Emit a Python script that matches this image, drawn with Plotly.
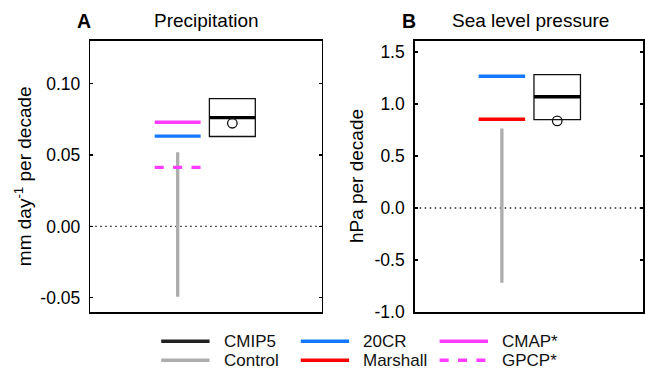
import plotly.graph_objects as go

# ---------------- data ----------------
panels = ["A", "B"]
panel_titles = ["Precipitation", "Sea level pressure"]
y_titles = ["mm day<sup>-1</sup> per decade", "hPa per decade"]

# CMIP5 box statistics per panel
cmip5_q1 = [0.063, 0.850]
cmip5_median = [0.0762, 1.069]
cmip5_q3 = [0.0896, 1.281]
cmip5_mean = [0.0723, 0.837]

# Control range [min, max]
control_min = [-0.0493, -0.719]
control_max = [0.052, 0.765]

# Observational / reanalysis trends (None = not shown in panel)
obs_20cr = [0.0632, 1.266]
obs_marshall = [None, 0.853]
obs_cmap = [0.073, None]
obs_gpcp = [0.0414, None]

y_ranges = [[-0.06, 0.13], [-1.0, 1.606]]
y_ticks = [[-0.05, 0.00, 0.05, 0.10], [-1.0, -0.5, 0.0, 0.5, 1.0, 1.5]]
y_ticktext = [["-0.05", "0.00", "0.05", "0.10"], ["-1.0", "-0.5", "0.0", "0.5", "1.0", "1.5"]]

legend_names = ["CMIP5", "Control", "20CR", "Marshall", "CMAP*", "GPCP*"]

# ---------------- styles ----------------
FONT = "Liberation Sans, Arial, Helvetica, sans-serif"
C_CMIP = "#000000"
C_CTRL = "#adadad"
C_20CR = "#1478ff"
C_MARS = "#ff0000"
C_CMAP = "#ff3cff"
GPCP_DASH = "9px,9.4px"

W, H = 645, 378


def px(x):
    return x / W


def py(y):
    return 1 - y / H


OBS_POS = 1.0
CMIP_POS = 2.0
HALF = 0.42
x_ranges = [[-0.6, 3.64], [-0.575, 3.55]]
x_domains = [[px(90.5), px(323)], [px(416), 1.0]]
y_domain = [py(320.5), py(42)]

fig = go.Figure()
shapes = []
annotations = []

for i in range(2):
    xa = "x" if i == 0 else "x2"
    ya = "y" if i == 0 else "y2"
    # zero reference line
    shapes.append(dict(type="line", xref=f"{xa} domain", yref=ya, x0=0, x1=1, y0=0, y1=0,
                       line=dict(color="#222222", width=1.3, dash="1.5px,3.5px"), layer="below"))
    # control range
    fig.add_trace(go.Scatter(x=[OBS_POS, OBS_POS], y=[control_min[i], control_max[i]], mode="lines",
                             line=dict(color=C_CTRL, width=3.3), xaxis=xa, yaxis=ya,
                             showlegend=False, hoverinfo="skip"))
    # observations
    for vals, col, dash in [(obs_20cr, C_20CR, "solid"), (obs_marshall, C_MARS, "solid"),
                            (obs_cmap, C_CMAP, "solid"), (obs_gpcp, C_CMAP, GPCP_DASH)]:
        v = vals[i]
        if v is None:
            continue
        fig.add_trace(go.Scatter(x=[OBS_POS - HALF, OBS_POS + HALF], y=[v, v], mode="lines",
                                 line=dict(color=col, width=3.3, dash=dash), xaxis=xa, yaxis=ya,
                                 showlegend=False, hoverinfo="skip"))
    # CMIP5 box, median and mean
    shapes.append(dict(type="rect", xref=xa, yref=ya, x0=CMIP_POS - HALF, x1=CMIP_POS + HALF,
                       y0=cmip5_q1[i], y1=cmip5_q3[i], line=dict(color="#111111", width=1.3),
                       fillcolor="rgba(0,0,0,0)"))
    fig.add_trace(go.Scatter(x=[CMIP_POS - HALF, CMIP_POS + HALF], y=[cmip5_median[i]] * 2, mode="lines",
                             line=dict(color=C_CMIP, width=3.3), xaxis=xa, yaxis=ya,
                             showlegend=False, hoverinfo="skip"))
    fig.add_trace(go.Scatter(x=[CMIP_POS], y=[cmip5_mean[i]], mode="markers",
                             marker=dict(symbol="circle-open", size=9.5, color="#111111",
                                         line=dict(width=1.3, color="#111111")),
                             xaxis=xa, yaxis=ya, showlegend=False, hoverinfo="skip"))

# axes
ax_common = dict(showline=True, linecolor="black", linewidth=1.5, mirror=True,
                 showgrid=False, zeroline=False)
ytick_common = dict(ticks="inside", ticklen=3, tickwidth=1.2, tickcolor="black",
                    ticklabelstandoff=5, tickfont=dict(size=17.5, color="black", family=FONT))
fig.update_layout(
    xaxis=dict(domain=x_domains[0], range=x_ranges[0], showticklabels=False, ticks="",
               anchor="y", **ax_common),
    yaxis=dict(domain=y_domain, range=y_ranges[0], tickvals=y_ticks[0], ticktext=y_ticktext[0],
               anchor="x", **ytick_common, **{**ax_common, "mirror": "ticks"}),
    xaxis2=dict(domain=x_domains[1], range=x_ranges[1], showticklabels=False, ticks="",
                anchor="y2", **ax_common),
    yaxis2=dict(domain=y_domain, range=y_ranges[1], tickvals=y_ticks[1], ticktext=y_ticktext[1],
                anchor="x2", **ytick_common, **{**ax_common, "mirror": "ticks"}),
)

# titles
letter_x = [84, 410]
title_x = [207, 532.5]
ytitle_x = [23, 357]
for i in range(2):
    annotations.append(dict(text=f"<b>{panels[i]}</b>", xref="paper", yref="paper",
                            x=px(letter_x[i]), y=py(21.5), showarrow=False,
                            xanchor="center", yanchor="middle",
                            font=dict(size=19.5, color="black", family=FONT)))
    annotations.append(dict(text=panel_titles[i], xref="paper", yref="paper",
                            x=px(title_x[i]), y=py(21.5), showarrow=False,
                            xanchor="center", yanchor="middle",
                            font=dict(size=19, color="black", family=FONT)))
    annotations.append(dict(text=y_titles[i], xref="paper", yref="paper",
                            x=px(ytitle_x[i]), y=py(181), showarrow=False, textangle=-90,
                            xanchor="center", yanchor="middle",
                            font=dict(size=19, color="black", family=FONT)))

# legend (2 rows x 3 columns, column-major)
leg_colors = ["#222222", C_CTRL, C_20CR, C_MARS, C_CMAP, C_CMAP]
leg_dash = ["solid", "solid", "solid", "solid", "solid", GPCP_DASH]
col_line_x0 = [161.7, 301.7, 441]
row_y = [350.5, 370]
for k, name in enumerate(legend_names):
    c, r = k // 2, k % 2
    y = py(row_y[r])
    shapes.append(dict(type="line", xref="paper", yref="paper",
                       x0=px(col_line_x0[c]), x1=px(col_line_x0[c] + 48.5), y0=y, y1=y,
                       line=dict(color=leg_colors[k], width=3.5, dash=leg_dash[k])))
    annotations.append(dict(text=name, xref="paper", yref="paper",
                            x=px(col_line_x0[c] + 60.5), y=y, showarrow=False,
                            xanchor="left", yanchor="middle",
                            font=dict(size=17, color="#111111", family=FONT)))

fig.update_layout(shapes=shapes, annotations=annotations, width=W, height=H,
                  margin=dict(l=0, r=0, t=0, b=0), plot_bgcolor="white", paper_bgcolor="white",
                  font=dict(family=FONT, color="black"), showlegend=False)

# remove the page's default body margin so the figure fills the window exactly
post = """
var de = document.documentElement;
de.style.margin = '0'; de.style.padding = '0'; de.style.overflow = 'hidden';
document.body.style.margin = '0'; document.body.style.padding = '0';
document.body.style.overflow = 'hidden';
var gd = document.getElementById('{plot_id}');
var sx = window.innerWidth / %d, sy = window.innerHeight / %d;
gd.style.transformOrigin = '0 0';
gd.style.transform = 'scale(' + sx + ',' + sy + ')';
""" % (W, H)

fig.write_html("out.html", config={"displayModeBar": False, "staticPlot": True}, post_script=post)
